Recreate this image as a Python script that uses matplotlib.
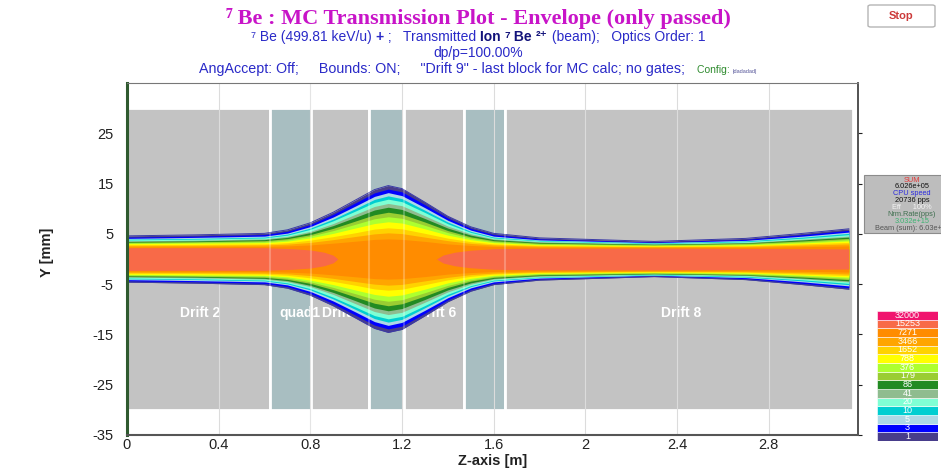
import matplotlib
matplotlib.use("Agg")
import matplotlib.pyplot as plt
from matplotlib.patches import Rectangle, FancyBboxPatch
import numpy as np

# beam-line elements along z [m]
element_start = [0.0, 0.625, 0.805, 1.055, 1.21, 1.47, 1.65]
element_end = [0.625, 0.805, 1.055, 1.21, 1.47, 1.65, 3.17]
element_kind = ["drift", "quad", "drift", "quad", "drift", "quad", "drift"]

label_text = ["Drift 2", "quad1", "Drift 4", "Drift 6", "Drift 8"]
label_z = [0.32, 0.755, 0.94, 1.35, 2.42]
label_block = [0, 1, 2, 4, 6]

# count levels of the envelope plot (bottom -> top of the colour key)
levels = [1, 3, 5, 10, 20, 41, 86, 179, 376, 788, 1652, 3466, 7271, 15253, 32000]
level_colors = ["#483d8b", "#0000ff", "#add8e6", "#00ced1", "#7fffd4", "#8fbc8f",
                "#228b22", "#9acd32", "#adff2f", "#ffff00", "#ffd200", "#ffa500",
                "#ff8c00", "#f86a48", "#f0136e"]

# half-width [mm] of each count level (1 ... 7271) at the z knots
z_knots = [0.0, 0.3, 0.6, 0.7, 0.8, 0.9, 1.0, 1.08, 1.14, 1.2, 1.3, 1.4, 1.5, 1.6,
           1.8, 2.3, 2.7, 2.95, 3.15]
half_width = [
    [4.6, 4.35, 4.1, 3.95, 3.8, 3.6, 3.5, 3.35, 3.2, 3.05, 2.85, 2.65, 2.4],
    [4.8, 4.55, 4.3, 4.1, 3.95, 3.75, 3.6, 3.45, 3.3, 3.15, 2.9, 2.7, 2.45],
    [5.1, 4.85, 4.55, 4.35, 4.2, 4.0, 3.85, 3.65, 3.45, 3.25, 3.0, 2.8, 2.5],
    [5.8, 5.5, 5.15, 4.95, 4.75, 4.5, 4.3, 4.05, 3.8, 3.55, 3.25, 2.95, 2.6],
    [7.2, 6.85, 6.45, 6.15, 5.9, 5.5, 5.25, 4.85, 4.55, 4.2, 3.75, 3.3, 2.8],
    [9.3, 8.9, 8.35, 7.95, 7.6, 7.05, 6.65, 6.1, 5.65, 5.1, 4.45, 3.85, 3.15],
    [11.8, 11.25, 10.6, 10.1, 9.6, 8.95, 8.35, 7.6, 6.95, 6.2, 5.25, 4.5, 3.55],
    [13.8, 13.15, 12.45, 11.85, 11.25, 10.45, 9.75, 8.8, 8.0, 7.05, 5.95, 5.0, 3.9],
    [14.6, 13.9, 13.2, 12.55, 11.9, 11.05, 10.3, 9.3, 8.4, 7.4, 6.2, 5.2, 4.0],
    [14.0, 13.35, 12.6, 12.0, 11.4, 10.6, 9.85, 8.9, 8.1, 7.15, 6.0, 5.05, 3.9],
    [11.3, 10.8, 10.2, 9.7, 9.25, 8.6, 8.05, 7.35, 6.7, 6.0, 5.1, 4.35, 3.5],
    [8.5, 8.15, 7.7, 7.35, 7.0, 6.55, 6.15, 5.65, 5.25, 4.75, 4.15, 3.65, 3.0],
    [6.4, 6.1, 5.75, 5.5, 5.3, 5.0, 4.75, 4.4, 4.15, 3.85, 3.45, 3.1, 2.7],
    [5.1, 4.85, 4.55, 4.35, 4.2, 4.0, 3.85, 3.65, 3.45, 3.25, 3.0, 2.8, 2.5],
    [4.2, 4.0, 3.8, 3.7, 3.6, 3.45, 3.3, 3.15, 3.0, 2.85, 2.7, 2.55, 2.35],
    [3.5, 3.35, 3.25, 3.2, 3.1, 3.0, 2.95, 2.85, 2.75, 2.65, 2.55, 2.45, 2.3],
    [4.1, 3.9, 3.7, 3.6, 3.45, 3.3, 3.2, 3.1, 2.95, 2.8, 2.65, 2.5, 2.3],
    [5.1, 4.85, 4.55, 4.35, 4.15, 3.95, 3.8, 3.6, 3.4, 3.2, 3.0, 2.75, 2.45],
    [6.0, 5.7, 5.35, 5.1, 4.85, 4.55, 4.35, 4.1, 3.85, 3.6, 3.3, 3.0, 2.6],
]

# 15253-count core, split in two pieces around the focus
core_z_left = [0.0, 0.6, 0.72, 0.8, 0.86, 0.9, 0.92]
core_w_left = [2.25, 2.25, 2.05, 1.8, 1.35, 0.75, 0.0]
core_z_right = [1.35, 1.38, 1.43, 1.5, 1.6, 1.8, 2.3, 2.7, 2.95, 3.15]
core_w_right = [0.0, 0.8, 1.35, 1.75, 2.05, 2.15, 2.15, 2.1, 2.05, 2.0]

stats_lines = ["SUM", "6.026e+05", "CPU speed", "20736 pps", "Eff      100%",
               "Nrm.Rate(pps)", "3.032e+15", "Beam (sum): 6.03e+05"]
stats_colors = ["#e23a3a", "#111111", "#2b2bdd", "#111111", "#f4f4f4",
                "#3f6f4f", "#3cb371", "#555555"]

plt.rcParams["font.family"] = ["Liberation Sans", "DejaVu Sans"]
plt.rcParams["axes.unicode_minus"] = False

fig = plt.figure(figsize=(9.41, 4.68), dpi=100)
ax = fig.add_axes([127 / 941, 1 - 435 / 468, 731 / 941, 352 / 468])

# element blocks
block_patches = []
for start, end, kind in zip(element_start, element_end, element_kind):
    color = "#a8bec1" if kind == "quad" else "#c3c3c3"
    rect = Rectangle((start, -30), end - start, 60, facecolor=color,
                     edgecolor="white", linewidth=2.0, zorder=1)
    ax.add_patch(rect)
    block_patches.append(rect)

for text, z, blk in zip(label_text, label_z, label_block):
    t = ax.text(z, -10.8, text, color="white", fontsize=10, fontweight="bold",
                ha="center", va="center", zorder=1.2)
    t.set_clip_path(block_patches[blk])

# envelope bands, outermost first
w = np.array(half_width)
for k in range(w.shape[1]):
    ax.fill_between(z_knots, -w[:, k], w[:, k], color=level_colors[k],
                    linewidth=0, zorder=2)
ax.fill_between(core_z_left, -np.array(core_w_left), core_w_left,
                color=level_colors[13], linewidth=0, zorder=2)
ax.fill_between(core_z_right, -np.array(core_w_right), core_w_right,
                color=level_colors[13], linewidth=0, zorder=2)
ax.plot(z_knots, w[:, 0], color="#3a3aa8", linewidth=0.7, zorder=2.1)
ax.plot(z_knots, -w[:, 0], color="#3a3aa8", linewidth=0.7, zorder=2.1)

# faint element borders through the beam
for edge in element_start[1:]:
    ax.axvline(edge, color="white", alpha=0.25, linewidth=1.5, zorder=2.5)

ax.set_xlim(0, 3.19)
ax.set_ylim(-35, 35)
ax.set_xticks([0, 0.4, 0.8, 1.2, 1.6, 2, 2.4, 2.8])
ax.set_xticklabels(["0", "0.4", "0.8", "1.2", "1.6", "2", "2.4", "2.8"])
ax.set_yticks([25, 15, 5, -5, -15, -25, -35])
ax.set_axisbelow("line")
ax.grid(axis="x", color="#dcdcdc", linewidth=0.8)
ax.tick_params(axis="x", length=0, pad=2, labelsize=10.5, colors="#222222")
ax.tick_params(axis="y", left=False, right=True, length=3, pad=6.5,
               labelsize=10.5, colors="#222222")
ax.spines["left"].set_color("#2f5a2f")
ax.spines["left"].set_linewidth(2.2)
ax.spines["bottom"].set_color("#555555")
ax.spines["bottom"].set_linewidth(1.5)
ax.spines["right"].set_color("#444444")
ax.spines["right"].set_linewidth(1.3)
ax.spines["top"].set_color("#777777")

ax.set_xlabel("Z-axis [m]", fontsize=10.5, fontweight="bold", color="#222222")
ax.set_ylabel("Y [mm]", fontsize=10.5, fontweight="bold", color="#222222")
ax.xaxis.label.set_va("center")
ax.yaxis.label.set_va("center")
ax.xaxis.set_label_coords(0.5, -0.073)
ax.yaxis.set_label_coords(-0.11, 0.52)


def centered_runs(y, runs, cx=478 / 941):
    renderer = fig.canvas.get_renderer()
    texts = [fig.text(0, y, s, va="baseline", **kw) for s, kw in runs]
    widths = [t.get_window_extent(renderer).width / fig.bbox.width for t in texts]
    x = cx - sum(widths) / 2
    for t, wd in zip(texts, widths):
        t.set_x(x)
        x += wd


serif = ["Liberation Serif", "DejaVu Serif"]
magenta = "#c814c8"
blue = "#2a2ac8"
navy = "#12127a"
centered_runs(0.949, [
    ("⁷", dict(family=serif, fontsize=16.5, fontweight="bold", color=magenta)),
    (" Be : MC Transmission Plot - Envelope (only passed)",
     dict(family=serif, fontsize=16, fontweight="bold", color=magenta)),
])
centered_runs(0.912, [
    ("⁷", dict(fontsize=10, color=blue)),
    (" Be (499.81 keV/u) ", dict(fontsize=10, color=blue)),
    ("+", dict(fontsize=10, color=blue, fontweight="bold")),
    (" ;   Transmitted ", dict(fontsize=10, color=blue)),
    ("Ion ", dict(fontsize=10, color=navy, fontweight="bold")),
    ("⁷", dict(fontsize=10, color=navy, fontweight="bold")),
    (" Be ", dict(fontsize=10, color=navy, fontweight="bold")),
    ("²⁺", dict(fontsize=10, color=navy, fontweight="bold")),
    (" (beam);   Optics Order: 1", dict(fontsize=10, color=blue)),
])
centered_runs(0.878, [("dp/p=100.00%", dict(fontsize=10, color=blue))])
centered_runs(0.844, [
    ("AngAccept: Off;     Bounds: ON;     \"Drift 9\" - last block for MC calc; no gates;   ",
     dict(fontsize=10.3, color=blue)),
    ("Config: ", dict(fontsize=7.5, color="#2e8b2e")),
    ("|dadadad|", dict(fontsize=4, color="#555599")),
])

# stop button
fig.patches.append(FancyBboxPatch((868 / 941, 1 - 27 / 468), 67 / 941, 22 / 468,
                                  boxstyle="round,pad=0,rounding_size=0.003",
                                  transform=fig.transFigure, facecolor="white",
                                  edgecolor="#b5b5b5", linewidth=1.0))
fig.text(901.5 / 941, 1 - 16 / 468, "Stop", ha="center", va="center",
         fontsize=8, fontweight="bold", color="#cc3a3a")

# statistics panel
fig.patches.append(Rectangle((864 / 941, 1 - 233 / 468), 100 / 941, 58 / 468,
                             transform=fig.transFigure, facecolor="#bdbdbd",
                             edgecolor="#8c8c8c", linewidth=0.8))
for i, (line, col) in enumerate(zip(stats_lines, stats_colors)):
    fig.text(912 / 941, 1 - (180 + 6.9 * i) / 468, line, ha="center", va="center",
             fontsize=5.3, color=col)

# colour key
ax_key = fig.add_axes([877 / 941, 1 - 441 / 468, 61 / 941, 130 / 468])
ax_key.barh(range(len(levels)), 1, height=1, left=0, color=level_colors,
            edgecolor="white", linewidth=0.4)
for i, lv in enumerate(levels):
    ax_key.text(0.5, i, str(lv), ha="center", va="center", fontsize=6.5,
                color="white")
ax_key.set_xlim(0, 1)
ax_key.set_ylim(-0.5, len(levels) - 0.5)
ax_key.axis("off")

fig.savefig("out.png", dpi=100)
